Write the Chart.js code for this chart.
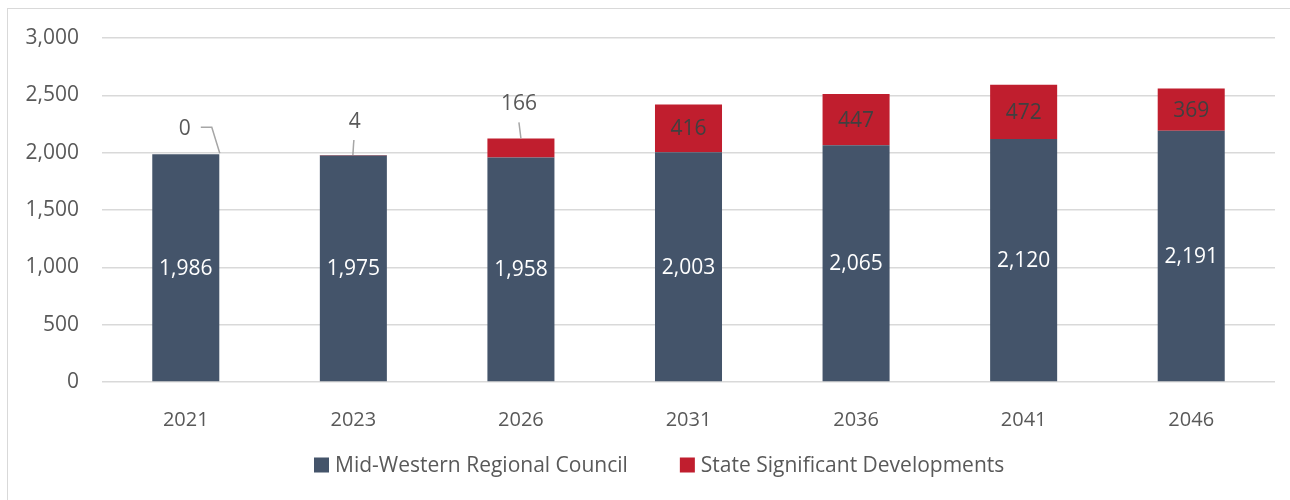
<!DOCTYPE html>
<html>
<head>
<meta charset="utf-8">
<script src="https://cdn.jsdelivr.net/npm/chart.js@4.4.1/dist/chart.umd.min.js"></script>
<style>
  html, body { margin: 0; padding: 0; background: #fff; }
  #wrap { width: 1290px; height: 500px; position: relative; }
</style>
</head>
<body>
<div id="wrap"><canvas id="chart" width="1290" height="500"></canvas></div>
<script>
// Dwellings by year
const years = ['2021', '2023', '2026', '2031', '2036', '2041', '2046'];
const councilValues = [1986, 1975, 1958, 2003, 2065, 2120, 2191];
const stateValues = [0, 4, 166, 416, 447, 472, 369];
const seriesNames = ['Mid-Western Regional Council', 'State Significant Developments'];
const yMax = 3000;
const yStep = 500;

const navy = '#44546A';
const red = '#C01E2E';
const textGrey = '#595959';
const fontFamily = '"Open Sans", "DejaVu Sans", sans-serif';

// small labels that sit above the bars with a leader line (offsets from bar top centre)
const callouts = {
    0: { text: [-1, -25], line: [[15, -27], [26, -27], [34, -1]] },
    1: { text: [1.5, -33], line: [[0.5, -15], [-0.5, 0]] },
    2: { text: [-2, -34], line: [[-2, -16], [0, 0]] }
};

const fmt = v => v.toLocaleString('en-US');

// outer frame
const framePlugin = {
    id: 'frame',
    beforeDraw(chart) {
        const ctx = chart.ctx;
        ctx.save();
        ctx.strokeStyle = '#d9d9d9';
        ctx.lineWidth = 1;
        ctx.strokeRect(7.5, 8.5, 1320, 520);
        ctx.restore();
    }
};

// value labels on and above the bars
const labelPlugin = {
    id: 'barLabels',
    afterDatasetsDraw(chart) {
        const ctx = chart.ctx;
        ctx.save();
        ctx.font = '21px ' + fontFamily;
        ctx.textAlign = 'center';
        ctx.textBaseline = 'middle';

        chart.getDatasetMeta(0).data.forEach((bar, i) => {
            ctx.fillStyle = '#ffffff';
            ctx.fillText(fmt(councilValues[i]), bar.x, (bar.y + bar.base) / 2 + 1);
        });

        chart.getDatasetMeta(1).data.forEach((bar, i) => {
            const c = callouts[i];
            if (c) {
                ctx.fillStyle = textGrey;
                ctx.fillText(fmt(stateValues[i]), bar.x + c.text[0], bar.y + c.text[1]);
                ctx.strokeStyle = '#a6a6a6';
                ctx.lineWidth = 1.5;
                ctx.beginPath();
                c.line.forEach((p, k) => {
                    if (k === 0) ctx.moveTo(bar.x + p[0], bar.y + p[1]);
                    else ctx.lineTo(bar.x + p[0], bar.y + p[1]);
                });
                ctx.stroke();
            } else {
                ctx.fillStyle = '#404040';
                ctx.fillText(fmt(stateValues[i]), bar.x, (bar.y + bar.base) / 2 + 1);
            }
        });
        ctx.restore();
    }
};

// legend drawn by hand so the gap between the two items can be matched
const legendPlugin = {
    id: 'wideLegend',
    afterDraw(chart) {
        const ctx = chart.ctx;
        ctx.save();
        ctx.font = '21px ' + fontFamily;
        ctx.textBaseline = 'middle';
        const box = 15, gapText = 6, gapItem = 52, y = 466;
        const items = chart.data.datasets.map(ds => ({ label: ds.label, color: ds.backgroundColor }));
        const widths = items.map(it => box + gapText + ctx.measureText(it.label).width);
        const total = widths.reduce((a, b) => a + b, 0) + gapItem * (items.length - 1);
        let x = Math.round(659 - total / 2);
        items.forEach((it, i) => {
            ctx.fillStyle = it.color;
            ctx.fillRect(x, y - box / 2 - 1, box, box);
            ctx.fillStyle = textGrey;
            ctx.fillText(it.label, x + box + gapText, y);
            x += widths[i] + gapItem;
        });
        ctx.restore();
    }
};

new Chart(document.getElementById('chart'), {
    type: 'bar',
    data: {
        labels: years,
        datasets: [
            { label: seriesNames[0], data: councilValues, backgroundColor: navy },
            { label: seriesNames[1], data: stateValues, backgroundColor: red }
        ]
    },
    options: {
        responsive: false,
        animation: false,
        events: [],
        layout: { padding: { left: 0, right: 15, top: 38, bottom: 68 } },
        datasets: { bar: { barPercentage: 0.4, categoryPercentage: 1 } },
        plugins: {
            legend: { display: false },
            tooltip: { enabled: false }
        },
        scales: {
            x: {
                stacked: true,
                grid: { display: false },
                border: { display: false },
                ticks: { color: textGrey, font: { family: fontFamily, size: 20 }, padding: 18 },
                afterFit(scale) { scale.height = 50; }
            },
            y: {
                stacked: true,
                min: 0,
                max: yMax,
                grid: { color: '#d9d9d9', lineWidth: 1.5, drawTicks: false },
                border: { display: false },
                ticks: {
                    stepSize: yStep,
                    color: textGrey,
                    font: { family: fontFamily, size: 21 },
                    padding: 23,
                    callback: v => fmt(v)
                },
                afterFit(scale) { scale.width = 102; }
            }
        }
    },
    plugins: [framePlugin, labelPlugin, legendPlugin]
});
</script>
</body>
</html>
